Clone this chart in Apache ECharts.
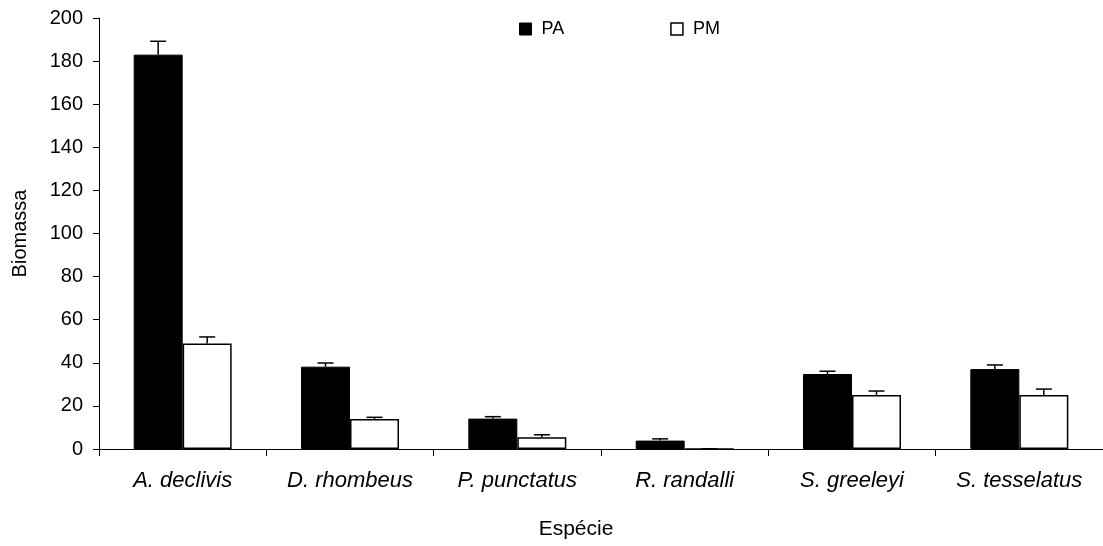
<!DOCTYPE html>
<html>
<head>
<meta charset="utf-8">
<script src="https://cdn.jsdelivr.net/npm/echarts@6/dist/echarts.min.js"></script>
<style>
  html, body { margin: 0; padding: 0; background: #fff; }
  #chart { width: 1103px; height: 546px; }
</style>
</head>
<body>
<div id="chart"></div>
<script>
// Biomass per species, two sites, with standard-error whiskers
const species = ['A. declivis', 'D. rhombeus', 'P. punctatus', 'R. randalli', 'S. greeleyi', 'S. tesselatus'];
const paValues = [183, 38.2, 14.1, 3.9, 34.8, 37.1];
const paErrors = [6.2, 1.7, 0.9, 0.8, 1.3, 1.9];
const pmValues = [49.0, 13.9, 5.4, 0, 25.1, 25.1];
const pmErrors = [3.0, 0.8, 1.2, 0.1, 1.8, 2.7];
const yTicks = { min: 0, max: 200, step: 20 };

const FONT = 'Liberation Sans, Arial, sans-serif';
const BAR_W = 49;

// Upward-only whisker with a short cap, drawn at the bar's horizontal offset
function whisker(values, errors, offset) {
  return {
    type: 'custom',
    silent: true,
    z: 5,
    data: values.map((v, i) => [i, v, errors[i]]),
    renderItem: function (params, api) {
      const i = api.value(0);
      const v = api.value(1);
      const e = api.value(2);
      const base = api.coord([i, v]);
      const top = api.coord([i, v + e]);
      const x = base[0] + offset;
      const cap = 8;
      const style = { stroke: '#000', lineWidth: 1.5 };
      return {
        type: 'group',
        children: [
          { type: 'line', shape: { x1: x, y1: base[1], x2: x, y2: top[1] }, style: style },
          { type: 'line', shape: { x1: x - cap, y1: top[1], x2: x + cap, y2: top[1] }, style: style }
        ]
      };
    }
  };
}

const chart = echarts.init(document.getElementById('chart'), null, { renderer: 'canvas' });
chart.setOption({
  animation: false,
  backgroundColor: '#fff',
  textStyle: { fontFamily: FONT, color: '#000' },
  legend: {
    left: 519,
    top: 20,
    padding: 0,
    itemWidth: 12,
    itemHeight: 12,
    itemGap: 106,
    icon: 'rect',
    textStyle: { fontFamily: FONT, fontSize: 18, color: '#000', padding: [0, 0, 0, 5] },
    data: [
      { name: 'PA', itemStyle: { color: '#000', borderColor: '#000', borderWidth: 1 } },
      { name: 'PM', itemStyle: { color: '#fff', borderColor: '#000', borderWidth: 1.5 } }
    ]
  },
  grid: { left: 99, right: 0, top: 18, bottom: 97, containLabel: false },
  xAxis: {
    type: 'category',
    data: species,
    boundaryGap: true,
    name: 'Espécie',
    nameLocation: 'middle',
    nameGap: 70,
    nameTextStyle: { fontFamily: FONT, fontSize: 21, color: '#000', padding: [0, 50, 0, 0] },
    axisLine: { lineStyle: { color: '#000', width: 1 } },
    axisTick: { show: true, length: 7, lineStyle: { color: '#000' } },
    axisLabel: { fontFamily: FONT, fontSize: 22, fontStyle: 'italic', color: '#000', margin: 21 },
    splitLine: { show: false }
  },
  yAxis: {
    type: 'value',
    min: yTicks.min,
    max: yTicks.max,
    interval: yTicks.step,
    name: 'Biomassa',
    nameLocation: 'middle',
    nameGap: 69,
    nameRotate: 90,
    nameTextStyle: { fontFamily: FONT, fontSize: 20, color: '#000' },
    axisLine: { show: true, lineStyle: { color: '#000', width: 1 } },
    axisTick: { show: true, length: 6, lineStyle: { color: '#000' } },
    axisLabel: { fontFamily: FONT, fontSize: 20, color: '#000', margin: 16 },
    splitLine: { show: false }
  },
  series: [
    {
      name: 'PA',
      type: 'bar',
      data: paValues,
      barWidth: BAR_W,
      barGap: '0%',
      itemStyle: { color: '#000', borderColor: '#000', borderWidth: 1 }
    },
    {
      name: 'PM',
      type: 'bar',
      data: pmValues,
      barWidth: BAR_W,
      barGap: '0%',
      itemStyle: { color: '#fff', borderColor: '#000', borderWidth: 1.5 }
    },
    whisker(paValues, paErrors, -BAR_W / 2),
    whisker(pmValues, pmErrors, BAR_W / 2)
  ]
});
</script>
</body>
</html>
